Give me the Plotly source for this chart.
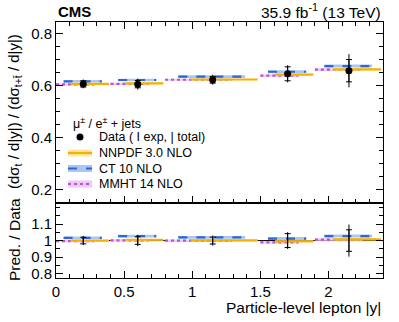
"""Lepton |y| ratio plot: data vs NLO predictions with a Pred./Data panel."""

import plotly.graph_objects as go

bin_edges = [0.0, 0.4, 0.8, 1.5, 1.9, 2.4]

data_val = [0.607, 0.606, 0.623, 0.646, 0.658]
data_exp = [0.012, 0.014, 0.013, 0.027, 0.043]
data_tot = [0.017, 0.021, 0.019, 0.033, 0.064]

nnpdf_val = [0.607, 0.609, 0.624, 0.643, 0.663]
nnpdf_unc = [0.003, 0.003, 0.003, 0.003, 0.004]
ct10_val = [0.617, 0.622, 0.635, 0.654, 0.676]
ct10_unc = [0.005, 0.005, 0.005, 0.006, 0.006]
mmht_val = [0.605, 0.607, 0.623, 0.639, 0.662]
mmht_unc = [0.004, 0.004, 0.004, 0.004, 0.005]

# (label, values, uncertainties, line colour, band colour, dash, offset inside bin)
theories = [
    ("MMHT 14 NLO", mmht_val, mmht_unc, "#c44bd8", "#e7cdf3", "dot", 0.0),
    ("CT 10 NLO", ct10_val, ct10_unc, "#2b68d6", "#a9c7f2", "dash", 0.14),
    ("NNPDF 3.0 NLO", nnpdf_val, nnpdf_unc, "#f7b000", "#fce9a0", "solid", 0.27),
]
SPAN = 0.7
FONT = "Liberation Sans, Arial, Helvetica, sans-serif"

W, H = 399, 322
L, R, T, B = 56, 16, 22, 44
split = (278 - 203.3) / 256


def px(x):
    return (x - L) / (W - L - R)


def py(y):
    return (H - B - y) / (H - T - B)


centres = [(lo + hi) / 2 for lo, hi in zip(bin_edges[:-1], bin_edges[1:])]

fig = go.Figure()

# reference line at 1 in the ratio panel
fig.add_trace(go.Scatter(x=[bin_edges[0], bin_edges[-1]], y=[1, 1], mode="lines",
                         line=dict(color="black", width=1), xaxis="x2", yaxis="y2",
                         showlegend=False, hoverinfo="skip"))

for name, vals, uncs, lc, bc, dash, off in theories:
    ratio = [v / d for v, d in zip(vals, data_val)]
    ratio_unc = [u / d for u, d in zip(uncs, data_val)]
    for ys, us, xa, ya in [(vals, uncs, "x", "y"), (ratio, ratio_unc, "x2", "y2")]:
        bx, by, lx, ly = [], [], [], []
        for i, (lo, hi) in enumerate(zip(bin_edges[:-1], bin_edges[1:])):
            w = hi - lo
            x0, x1 = lo + off * w, lo + (off + SPAN) * w
            bx += [x0, x1, x1, x0, x0, None]
            by += [ys[i] - us[i], ys[i] - us[i], ys[i] + us[i], ys[i] + us[i], ys[i] - us[i], None]
            lx += [x0, x1, None]
            ly += [ys[i], ys[i], None]
        fig.add_trace(go.Scatter(x=bx, y=by, mode="lines", fill="toself", fillcolor=bc,
                                 line=dict(width=0), xaxis=xa, yaxis=ya,
                                 showlegend=False, hoverinfo="skip"))
        fig.add_trace(go.Scatter(x=lx, y=ly, mode="lines", line=dict(color=lc, width=2.2, dash=dash),
                                 xaxis=xa, yaxis=ya, showlegend=False, name=name))

ratio_ones = [d / d for d in data_val]
ratio_exp = [e / d for e, d in zip(data_exp, data_val)]
ratio_tot = [t / d for t, d in zip(data_tot, data_val)]

for ys, exp, tot, xa, ya, show in [(data_val, data_exp, data_tot, "x", "y", True),
                                   (ratio_ones, ratio_exp, ratio_tot, "x2", "y2", False)]:
    fig.add_trace(go.Scatter(x=centres, y=ys, mode="markers", marker=dict(size=4, opacity=0),
                             error_y=dict(type="data", array=tot, width=0, thickness=1, color="black"),
                             xaxis=xa, yaxis=ya, showlegend=False, hoverinfo="skip"))
    fig.add_trace(go.Scatter(x=centres, y=ys, mode="markers",
                             marker=dict(size=7, color="black", opacity=1 if show else 0),
                             error_y=dict(type="data", array=exp, width=3, thickness=1, color="black"),
                             xaxis=xa, yaxis=ya, showlegend=False, name="Data"))

tickfont = dict(family=FONT, size=15, color="black")
xcommon = dict(range=[0, 2.4], ticks="inside", ticklen=7, tickwidth=1, tickcolor="black",
               showline=True, linecolor="black", linewidth=1, showgrid=False, zeroline=False,
               tickvals=[0, 0.5, 1, 1.5, 2], automargin=False,
               minor=dict(ticks="inside", dtick=0.1, ticklen=4, tickcolor="black", showgrid=False))
ycommon = dict(ticks="inside", ticklen=7, tickwidth=1, tickcolor="black", showline=True,
               linecolor="black", linewidth=1, showgrid=False, zeroline=False, mirror="allticks",
               tickfont=tickfont, automargin=False)

fig.update_layout(
    width=W, height=H, margin=dict(l=L, r=R, t=T, b=B),
    paper_bgcolor="white", plot_bgcolor="white", showlegend=False,
    font=dict(family=FONT, color="black"),
    xaxis=dict(**xcommon, anchor="y", showticklabels=False, mirror="allticks"),
    yaxis=dict(**ycommon, domain=[split, 1], range=[0.146, 0.846], tickvals=[0.2, 0.4, 0.6, 0.8],
               tickformat=".1f",
               minor=dict(ticks="inside", dtick=0.05, ticklen=4, tickcolor="black", showgrid=False)),
    xaxis2=dict(**xcommon, anchor="y2", matches="x", mirror=True, tickfont=tickfont),
    yaxis2=dict(**ycommon, domain=[0, split], range=[0.773, 1.226], tickvals=[0.8, 0.9, 1, 1.1],
                minor=dict(ticks="inside", dtick=0.05, ticklen=4, tickcolor="black", showgrid=False)),
)

ann = [
    dict(x=0, y=py(11), text="<b>CMS</b>", xanchor="left", size=15),
    dict(x=1, y=py(11), text="35.9 fb<sup>-1</sup> (13 TeV)", xanchor="right", size=15.5),
    dict(x=1, y=py(307), text="Particle-level lepton |y|", xanchor="right", size=15.5),
    dict(x=px(71), y=py(123), text="μ<sup>±</sup> / e<sup>±</sup> + jets", xanchor="left", size=12.5),
    dict(x=px(97), y=py(137), text="Data ( I exp, | total)", xanchor="left", size=12.5),
    dict(x=px(97), y=py(153), text="NNPDF 3.0 NLO", xanchor="left", size=12.5),
    dict(x=px(97), y=py(168.5), text="CT 10 NLO", xanchor="left", size=12.5),
    dict(x=px(97), y=py(184), text="MMHT 14 NLO", xanchor="left", size=12.5),
]
for a in ann:
    fig.add_annotation(x=a["x"], y=a["y"], xref="paper", yref="paper", text=a["text"],
                       xanchor=a["xanchor"], yanchor="middle", showarrow=False,
                       font=dict(family=FONT, size=a["size"], color="black"))

fig.add_annotation(x=px(14), y=py(112), xref="paper", yref="paper", textangle=-90,
                   xanchor="center", yanchor="middle",
                   text="(dσ<sub>t</sub> / d|y|) / (dσ<sub>t+t̄</sub> / d|y|)", showarrow=False,
                   font=dict(family=FONT, size=15, color="black"))
fig.add_annotation(x=px(14), y=py(240), xref="paper", yref="paper", textangle=-90,
                   xanchor="center", yanchor="middle",
                   text="Pred. / Data", showarrow=False,
                   font=dict(family=FONT, size=15.5, color="black"))

# hand-drawn legend symbols
fig.add_shape(type="circle", xref="paper", yref="paper", x0=px(76.5), x1=px(83.5),
              y0=py(140.5), y1=py(133.5), fillcolor="black", line=dict(width=0))
for ypos, (name, vals, uncs, lc, bc, dash, off) in zip([184, 168.5, 153], theories):
    fig.add_shape(type="rect", xref="paper", yref="paper", x0=px(68), x1=px(92),
                  y0=py(ypos + 3.5), y1=py(ypos - 3.5), fillcolor=bc, line=dict(width=0))
    fig.add_shape(type="line", xref="paper", yref="paper", x0=px(68), x1=px(92),
                  y0=py(ypos), y1=py(ypos), line=dict(color=lc, width=2.2, dash=dash))

# drop the browser's default 8px body margin so the figure sits at the page corner
fig.write_html("out.html", config={"displayModeBar": False},
               post_script="document.body.style.margin = '0px';")
